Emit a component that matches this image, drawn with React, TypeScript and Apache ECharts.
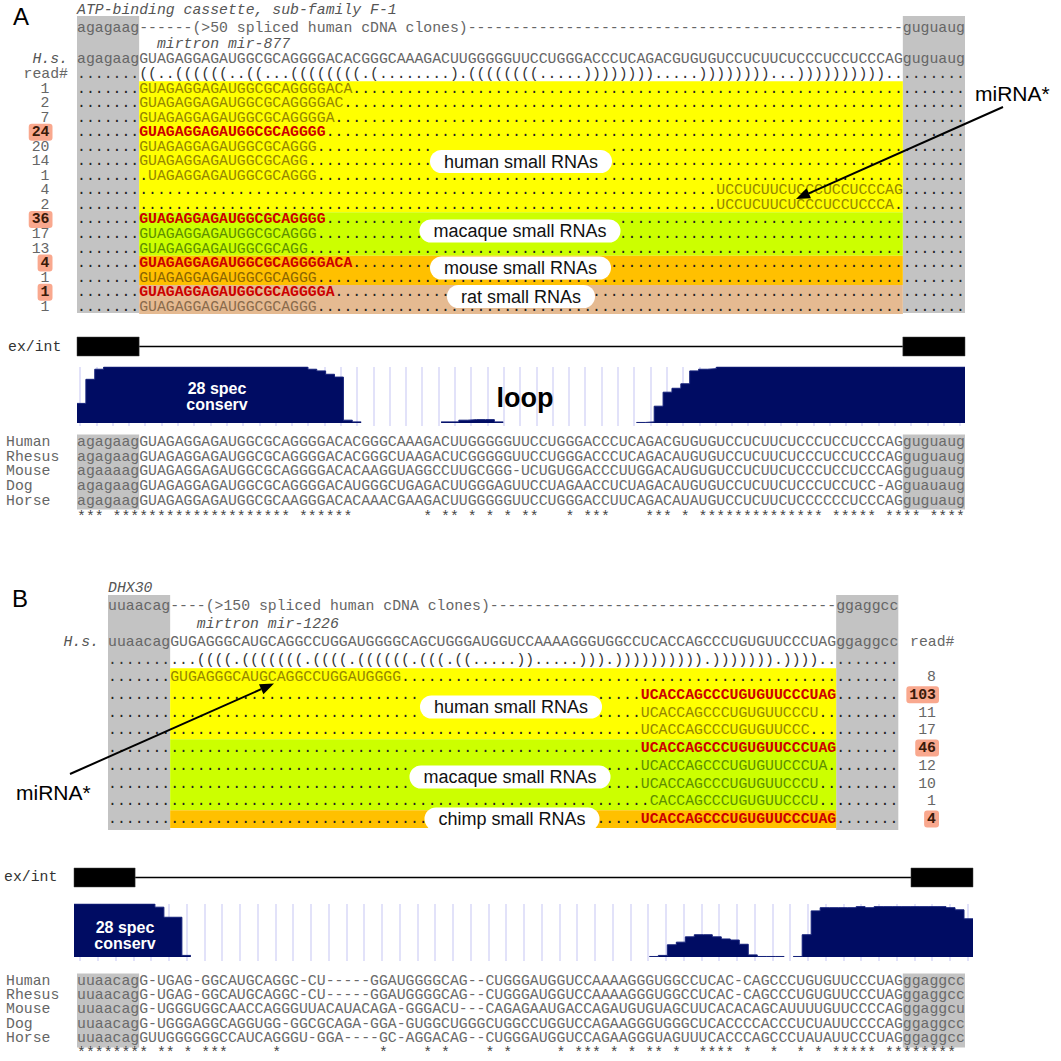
import React, { useEffect, useRef } from "react";
import * as echarts from "echarts";

// ---------------- Panel A : mirtron mir-877 ----------------
const A_GENE = "ATP-binding cassette, sub-family F-1";
const A_MIRTRON = "mirtron mir-877";
const A_CLONES = "(>50 spliced human cDNA clones)";
const A_FLANK_LEFT = "agagaag";
const A_FLANK_RIGHT = "guguaug";
const A_HAIRPIN = "GUAGAGGAGAUGGCGCAGGGGACACGGGCAAAGACUUGGGGGUUCCUGGGACCCUCAGACGUGUGUCCUCUUCUCCCUCCUCCCAG";
const A_STRUCTURE = "((..((((((..((...((((((((.(........).(((((((" + "(.....))))))))" + ".....))))))))...))))))))))..";
const A_READ_COUNTS = [1, 2, 7, 24, 20, 14, 1, 4, 2, 36, 17, 13, 4, 1, 1, 1];
const A_READ_STARTS = [0, 0, 0, 0, 0, 0, 1, 65, 65, 0, 0, 0, 0, 0, 0, 0];
const A_READ_SEQS = [
  "GUAGAGGAGAUGGCGCAGGGGACA",
  "GUAGAGGAGAUGGCGCAGGGGAC",
  "GUAGAGGAGAUGGCGCAGGGGA",
  "GUAGAGGAGAUGGCGCAGGGG",
  "GUAGAGGAGAUGGCGCAGGG",
  "GUAGAGGAGAUGGCGCAGG",
  "UAGAGGAGAUGGCGCAGGG",
  "UCCUCUUCUCCCUCCUCCCAG",
  "UCCUCUUCUCCCUCCUCCCA",
  "GUAGAGGAGAUGGCGCAGGGG",
  "GUAGAGGAGAUGGCGCAGGG",
  "GUAGAGGAGAUGGCGCAGG",
  "GUAGAGGAGAUGGCGCAGGGGACA",
  "GUAGAGGAGAUGGCGCAGGG",
  "GUAGAGGAGAUGGCGCAGGGGA",
  "GUAGAGGAGAUGGCGCAGGG",
];
const A_READ_GROUPS = [
  "human", "human", "human", "human", "human", "human", "human", "human", "human",
  "macaque", "macaque", "macaque", "mouse", "mouse", "rat", "rat",
];
const A_READ_MAJOR = [false, false, false, true, false, false, false, false, false, true, false, false, true, false, true, false];
const A_GROUP_NAMES = ["human", "macaque", "mouse", "rat"];
const A_GROUP_LABELS = ["human small RNAs", "macaque small RNAs", "mouse small RNAs", "rat small RNAs"];
const A_SPECIES = ["Human", "Rhesus", "Mouse", "Dog", "Horse"];
const A_ALIGNMENT = [
  "agagaag" + "GUAGAGGAGAUGGCGCAGGGGACACGGGCAAAGACUUGGGGGUU" + "CCUGGGACCCUCAGACGUGUGUCCUCUUCUCCCUCCUCCCAG" + "guguaug",
  "agagaag" + "GUAGAGGAGAUGGCGCAGGGGACACGGGCUAAGACUCGGGGGUU" + "CCUGGGACCCUCAGACAUGUGUCCUCUUCUCCCUCCUCCCAG" + "guguaug",
  "agaaaag" + "GUAGAGGAGAUGGCGCAGGGGACACAAGGUAGGCCUUGCGGG-U" + "CUGUGGACCCUUGGACAUGUGUCCUCUUCUCCCUCCUCCCAG" + "guguaug",
  "agagaag" + "GUAGAGGAGAUGGCGCAGGGGACAUGGGCUGAGACUUGGGAGUU" + "CCUAGAACCUCUAGACAUGUGUCCUCUUCUCCCUCCUCC-AG" + "guauaug",
  "agagaag" + "GUAGAGGAGAUGGCGCAAGGGACACAAACGAAGACUUGGGGGUU" + "CCUGGGACCUUCAGACAUAUGUCCUCUUCUCCCCCCUCCCAG" + "guguaug",
];
const A_EXONS = [[0, 7], [93, 100]];
// conservation track: segments (start column, per-column values 0..1)
const A_CONS_STARTS = [0, 41, 63];
const A_CONS_VALUES = [
  [0.35, 0.78, 0.96, 1, 1, 1, 1, 1, 1, 1, 1, 1, 1, 1, 1, 1, 1, 1, 1, 1, 1, 1, 1, 1, 1, 1,
    0.96, 0.93, 0.87, 0.82, 0.05, 0.02],
  [0.02, 0.02, 0.05, 0.06, 0.06, 0.06, 0.02],
  [0.01, 0.02, 0.3, 0.55, 0.62, 0.7, 0.93, 0.96, 0.97, 1, 1, 1, 1, 1, 1, 1, 1, 1, 1, 1, 1, 1, 1,
    1, 1, 1, 1, 1, 1, 1, 1, 1, 1, 1, 1, 1, 1],
];

// ---------------- Panel B : mirtron mir-1226 ----------------
const B_GENE = "DHX30";
const B_MIRTRON = "mirtron mir-1226";
const B_CLONES = "(>150 spliced human cDNA clones)";
const B_FLANK_LEFT = "uuaacag";
const B_FLANK_RIGHT = "ggaggcc";
const B_HAIRPIN = "GUGAGGGCAUGCAGGCCUGGAUGGGGCAGCUGGGAUGGUCCAAAAGGGUGGCCUCACCAGCCCUGUGUUCCCUAG";
const B_STRUCTURE = "..." + "((((" + "." + "(((((((" + "." + "((((" + "." + "((((((" + "." + "(((" + "." + "((" + "....." +
  "))" + "....." + ")))" + "." + "))))))))))" + "." + ")))))))" + "." + "))))" + "..";
const B_READ_COUNTS = [8, 103, 11, 17, 46, 12, 10, 1, 4];
const B_READ_STARTS = [0, 53, 53, 53, 53, 53, 53, 54, 53];
const B_READ_SEQS = [
  "GUGAGGGCAUGCAGGCCUGGAUGGGG",
  "UCACCAGCCCUGUGUUCCCUAG",
  "UCACCAGCCCUGUGUUCCCU",
  "UCACCAGCCCUGUGUUCCC",
  "UCACCAGCCCUGUGUUCCCUAG",
  "UCACCAGCCCUGUGUUCCCUA",
  "UCACCAGCCCUGUGUUCCCU",
  "CACCAGCCCUGUGUUCCCU",
  "UCACCAGCCCUGUGUUCCCUAG",
];
const B_READ_GROUPS = ["human", "human", "human", "human", "macaque", "macaque", "macaque", "macaque", "chimp"];
const B_READ_MAJOR = [false, true, false, false, true, false, false, false, true];
const B_GROUP_NAMES = ["human", "macaque", "chimp"];
const B_GROUP_LABELS = ["human small RNAs", "macaque small RNAs", "chimp small RNAs"];
const B_SPECIES = ["Human", "Rhesus", "Mouse", "Dog", "Horse"];
const B_ALIGNMENT = [
  "uuaacag" + "G-UGAG-GGCAUGCAGGC-CU-----GGAUGGGGCAG--CUGGG" + "AUGGUCCAAAAGGGUGGCCUCAC-CAGCCCUGUGUUCCCUAG" + "ggaggcc",
  "uuaacag" + "G-UGAG-GGCAUGCAGGC-CU-----GGAUGGGGCAG--CUGGG" + "AUGGUCCAAAAGGGUGGCCUCAC-CAGCCCUGUGUUCCCUAG" + "ggaggcc",
  "uuaacag" + "G-UGGGUGGCAACCAGGGUUACAUACAGA-GGGACU---CAGAG" + "AAUGACCAGAUGUGUAGCUUCACACAGCAUUUUGUUCCCCAG" + "ggaggcu",
  "uuaacag" + "G-UGGGAGGCAGGUGG-GGCGCAGA-GGA-GUGGCUGGGCUGGC" + "CUGGUCCAGAAGGGUGGGCUCACCCCACCCUCUAUUCCCCAG" + "ggaggcc",
  "uuaacag" + "GUUGGGGGGCCAUCAGGGU-GGA----GC-AGGACAG--CUGGG" + "AUGGUCCAGAAGGGUAGUUUCACCCAGCCCUAUAUUCCCUAG" + "ggaggcc",
];
const B_EXONS = [[0, 6.8], [93.1, 100]];
const B_CONS_STARTS = [0, 64, 80];
const B_CONS_VALUES = [
  [1, 1, 1, 1, 1, 1, 1, 1, 1, 0.94, 0.75, 0.75, 0.03],
  [0.01, 0.03, 0.23, 0.28, 0.38, 0.42, 0.42, 0.38, 0.34, 0.32, 0.24, 0.04, 0.01, 0.01, 0.01],
  [0.01, 0.42, 0.87, 0.93, 0.93, 0.93, 0.93, 0.95, 0.93, 0.95, 0.95, 0.95, 0.95, 0.95, 0.95, 0.95, 0.95,
    0.93, 0.89, 0.72],
];

// ---------------- styling ----------------
const W = 1061;
const H = 1061;
const CW = 8.88;
const FS = 14.8;
const MONO = "'Liberation Mono', Cousine, 'DejaVu Sans Mono', monospace";
const SANS = "'Liberation Sans', Arial, Helvetica, sans-serif";
const GROUP_BG: Record<string, string> = {
  human: "#FFFF00", macaque: "#CCFF00", mouse: "#FFC000", rat: "#E5BA91", chimp: "#FFC000",
};
const GROUP_FG: Record<string, string> = {
  human: "#958600", macaque: "#5E8E00", mouse: "#8C6500", rat: "#8A6B4C", chimp: "#8C6500",
};
const GREY_BOX = "#C3C3C3";
const SEQ_GREY = "#666666";
const MAJOR_RED = "#CC0000";
const SALMON = "#F9A88E";
const CONS_FILL = "#000C63";
const PILL_FONT = `18px ${SANS}`;
const PILL_PAD = 14;
const PILL_VPAD = 2.5;
const PILL_H = 18 + 2 * PILL_VPAD;

const NORMAL = `${FS}px ${MONO}`;
const BOLD = `bold ${FS}px ${MONO}`;
const ITALIC = `italic ${FS}px ${MONO}`;

let measureCtx: CanvasRenderingContext2D | null = null;
function measure(text: string, font: string) {
  if (!measureCtx) measureCtx = document.createElement("canvas").getContext("2d");
  if (!measureCtx) return text.length * 9;
  measureCtx.font = font;
  return measureCtx.measureText(text).width;
}

function T(x: number, y: number, text: string, o: any = {}) {
  const align = o.align ?? "left";
  const style: any = {
    text,
    fill: o.fill ?? SEQ_GREY,
    font: o.font ?? NORMAL,
    align,
    verticalAlign: "middle",
    textAlign: align,
    textVerticalAlign: "middle",
  };
  if (o.bg) {
    style.backgroundColor = o.bg;
    style.padding = o.padding;
    style.borderRadius = o.radius;
  }
  return { type: "text", x, y, z: o.z ?? 5, silent: true, style };
}

function R(x: number, y: number, w: number, h: number, fill: string, z = 1) {
  return { type: "rect", z, silent: true, shape: { x, y, width: w, height: h }, style: { fill } };
}

function arrow(x1: number, y1: number, x2: number, y2: number) {
  const ang = Math.atan2(y2 - y1, x2 - x1);
  const L = 14;
  const Wd = 5.5;
  const bx = x2 - L * Math.cos(ang);
  const by = y2 - L * Math.sin(ang);
  const px = -Math.sin(ang) * Wd;
  const py = Math.cos(ang) * Wd;
  return [
    { type: "line", z: 9, silent: true, shape: { x1, y1, x2: bx, y2: by }, style: { stroke: "#000", lineWidth: 2 } },
    {
      type: "polygon", z: 9, silent: true,
      shape: { points: [[x2, y2], [bx + px, by + py], [bx - px, by - py]] },
      style: { fill: "#000" },
    },
  ];
}

function stars(rows: string[]) {
  let s = "";
  for (let c = 0; c < rows[0].length; c++) {
    const ch = rows[0][c];
    s += ch !== "-" && rows.every((r) => r[c] === ch) ? "*" : " ";
  }
  return s;
}

type Pill = { cx: number; cy: number; w: number; h: number };

// dotted placeholder row, split around the read and around the label pills covering it
function pushDots(els: any[], x0: number, y: number, total: number, rs: number, rl: number, pills: Pill[]) {
  const hidden = (c: number) => {
    if (c >= rs && c < rs + rl) return true;
    const px = x0 + c * CW + CW / 2;
    const py = y + 3.8;
    return pills.some((p) => Math.abs(px - p.cx) < p.w / 2 - 2 && Math.abs(py - p.cy) < p.h / 2 + 0.5);
  };
  let c = 0;
  while (c < total) {
    if (hidden(c)) { c++; continue; }
    let e = c;
    while (e < total && !hidden(e)) e++;
    els.push(T(x0 + c * CW, y, ".".repeat(e - c), { fill: "#222" }));
    c = e;
  }
}

function bands(groups: string[], y0: number, rh: number, x: number, w: number) {
  const out: any[] = [];
  let i = 0;
  while (i < groups.length) {
    let j = i;
    while (j + 1 < groups.length && groups[j + 1] === groups[i]) j++;
    out.push(R(x, y0 + i * rh - rh / 2, w, (j - i + 1) * rh, GROUP_BG[groups[i]], 2));
    i = j + 1;
  }
  return out;
}

function makePills(labels: string[], centers: [number, number][]): Pill[] {
  return labels.map((l, k) => ({
    cx: centers[k][0], cy: centers[k][1], w: measure(l, PILL_FONT) + 2 * PILL_PAD, h: PILL_H,
  }));
}

function pillText(cx: number, cy: number, label: string) {
  return T(cx, cy, label, {
    align: "center", font: PILL_FONT, fill: "#111", bg: "#FFFFFF",
    padding: [PILL_VPAD, PILL_PAD, PILL_VPAD, PILL_PAD], radius: 12, z: 8,
  });
}

function buildOption() {
  const els: any[] = [];

  // ================= Panel A top =================
  const AX = 77;
  const AROW0 = 88.5;
  const ARH = 14.55;
  const aRowY = (i: number) => AROW0 + i * ARH;
  const aPillCenters: [number, number][] = [[521, 161.5], [520, 231], [520.5, 268], [521, 296.5]];
  const aPills = makePills(A_GROUP_LABELS, aPillCenters);
  els.push(T(13, 16, "A", { font: `24px ${SANS}`, fill: "#000" }));
  els.push(R(AX, 16, 7 * CW, 297, GREY_BOX));
  els.push(R(AX + 93 * CW, 16, 7 * CW, 297, GREY_BOX));
  els.push(...bands(A_READ_GROUPS, AROW0, ARH, AX + 7 * CW, 86 * CW));
  els.push(T(AX, 9.5, A_GENE, { font: ITALIC, fill: "#555" }));
  const aDash1 = 6;
  const aDash2 = 100 - 14 - aDash1 - A_CLONES.length;
  els.push(T(AX, 28, A_FLANK_LEFT + "-".repeat(aDash1) + A_CLONES + "-".repeat(aDash2) + A_FLANK_RIGHT));
  els.push(T(AX + 9 * CW, 44, A_MIRTRON, { font: ITALIC, fill: "#555" }));
  els.push(T(68, 59, "H.s.", { font: ITALIC, fill: "#555", align: "right" }));
  els.push(T(AX, 59, A_FLANK_LEFT + A_HAIRPIN + A_FLANK_RIGHT));
  els.push(T(68, 74, "read#", { align: "right" }));
  els.push(T(AX, 74, "......." + A_STRUCTURE + ".......", { fill: "#333" }));
  A_READ_SEQS.forEach((seq, i) => {
    const y = aRowY(i);
    const s = 7 + A_READ_STARTS[i];
    pushDots(els, AX, y, 100, s, seq.length, aPills);
    const major = A_READ_MAJOR[i];
    els.push(T(AX + s * CW, y, seq, {
      fill: major ? MAJOR_RED : GROUP_FG[A_READ_GROUPS[i]],
      font: major ? BOLD : NORMAL,
    }));
    const cnt = String(A_READ_COUNTS[i]);
    if (major) {
      els.push(T(52.5, y, cnt, { align: "right", font: BOLD, fill: "#3A1A0A", bg: SALMON, padding: [1, 3, 1, 3], radius: 3 }));
    } else {
      els.push(T(49.5, y, cnt, { align: "right" }));
    }
  });
  A_GROUP_NAMES.forEach((g, k) => {
    els.push(pillText(aPillCenters[k][0], aPillCenters[k][1], A_GROUP_LABELS[k]));
  });
  els.push(T(975, 93.5, "miRNA*", { font: `21px ${SANS}`, fill: "#000", z: 9 }));
  els.push(...arrow(1003, 107, 796, 199));

  // ================= Panel A bottom =================
  els.push(T(8, 347, "ex/int", { fill: "#333" }));
  els.push(T(217, 388, "28 spec", { align: "center", font: `bold 16px ${SANS}`, fill: "#FFFFFF", z: 100 }));
  els.push(T(217, 404, "conserv", { align: "center", font: `bold 16px ${SANS}`, fill: "#FFFFFF", z: 100 }));
  els.push(T(525, 398, "loop", { align: "center", font: `bold 27px ${SANS}`, fill: "#000", z: 100 }));
  els.push(R(AX, 434.5, 7 * CW, 75, GREY_BOX));
  els.push(R(AX + 93 * CW, 434.5, 7 * CW, 75, GREY_BOX));
  A_SPECIES.forEach((sp, i) => {
    const y = 442 + 14.7 * i;
    els.push(T(6, y, sp, { fill: "#666" }));
    els.push(T(AX, y, A_ALIGNMENT[i], { fill: "#6A6A6A" }));
  });
  els.push(T(AX, 442 + 14.7 * 5 + 1, stars(A_ALIGNMENT), { fill: "#444" }));

  // ================= Panel B top =================
  const BX = 108;
  const BROW0 = 677;
  const BRH = 17.75;
  const bRowY = (i: number) => BROW0 + i * BRH;
  const bPillCenters: [number, number][] = [[511, 707], [510, 777], [512, 819]];
  const bPills = makePills(B_GROUP_LABELS, bPillCenters);
  els.push(T(12, 598, "B", { font: `24px ${SANS}`, fill: "#000" }));
  els.push(R(BX, 595, 7 * CW, 235, GREY_BOX));
  els.push(R(BX + 82 * CW, 595, 7 * CW, 235, GREY_BOX));
  els.push(...bands(B_READ_GROUPS, BROW0, BRH, BX + 7 * CW, 75 * CW));
  els.push(T(BX, 588, B_GENE, { font: ITALIC, fill: "#555" }));
  const bDash1 = 4;
  const bDash2 = 89 - 14 - bDash1 - B_CLONES.length;
  els.push(T(BX, 606, B_FLANK_LEFT + "-".repeat(bDash1) + B_CLONES + "-".repeat(bDash2) + B_FLANK_RIGHT));
  els.push(T(BX + 10 * CW, 624, B_MIRTRON, { font: ITALIC, fill: "#555" }));
  els.push(T(99, 642, "H.s.", { font: ITALIC, fill: "#555", align: "right" }));
  els.push(T(BX, 642, B_FLANK_LEFT + B_HAIRPIN + B_FLANK_RIGHT));
  els.push(T(910, 642, "read#"));
  els.push(T(BX, 660, "......." + B_STRUCTURE + ".......", { fill: "#333" }));
  B_READ_SEQS.forEach((seq, i) => {
    const y = bRowY(i);
    const s = 7 + B_READ_STARTS[i];
    pushDots(els, BX, y, 89, s, seq.length, bPills);
    const major = B_READ_MAJOR[i];
    els.push(T(BX + s * CW, y, seq, {
      fill: major ? MAJOR_RED : GROUP_FG[B_READ_GROUPS[i]],
      font: major ? BOLD : NORMAL,
    }));
    const cnt = String(B_READ_COUNTS[i]);
    if (major) {
      els.push(T(939, y, cnt, { align: "right", font: BOLD, fill: "#3A1A0A", bg: SALMON, padding: [1, 3, 1, 3], radius: 3 }));
    } else {
      els.push(T(936, y, cnt, { align: "right" }));
    }
  });
  B_GROUP_NAMES.forEach((g, k) => {
    els.push(pillText(bPillCenters[k][0], bPillCenters[k][1], B_GROUP_LABELS[k]));
  });
  els.push(T(16, 792, "miRNA*", { font: `21px ${SANS}`, fill: "#000", z: 9 }));
  els.push(...arrow(70, 774, 274, 683.5));

  // ================= Panel B bottom =================
  els.push(T(4, 877, "ex/int", { fill: "#333" }));
  els.push(T(125, 927, "28 spec", { align: "center", font: `bold 16px ${SANS}`, fill: "#FFFFFF", z: 100 }));
  els.push(T(125, 943, "conserv", { align: "center", font: `bold 16px ${SANS}`, fill: "#FFFFFF", z: 100 }));
  els.push(R(AX, 973.5, 7 * CW, 74, GREY_BOX));
  els.push(R(AX + 93 * CW, 973.5, 7 * CW, 74, GREY_BOX));
  B_SPECIES.forEach((sp, i) => {
    const y = 980.5 + 14.4 * i;
    els.push(T(6, y, sp, { fill: "#666" }));
    els.push(T(AX, y, B_ALIGNMENT[i], { fill: "#6A6A6A" }));
  });
  els.push(T(AX, 1053.3, stars(B_ALIGNMENT), { fill: "#444" }));

  // ================= tracks (grids / series) =================
  const grids = [
    { left: 77, top: 337, width: 888, height: 19 }, // 0 A exon/intron
    { left: 77, top: 367, width: 888, height: 56 }, // 1 A conservation
    { left: 80, top: 367, width: 880, height: 59 }, // 2 A guide lines
    { left: 74, top: 868, width: 899, height: 19 }, // 3 B exon/intron
    { left: 74, top: 904, width: 899, height: 53 }, // 4 B conservation
    { left: 80, top: 904, width: 887.5, height: 57 }, // 5 B guide lines
  ];
  const hidden = {
    axisLine: { show: false }, axisTick: { show: false }, axisLabel: { show: false }, splitLine: { show: false },
  };
  const xAxis = grids.map((_, i) => {
    if (i === 2 || i === 5) {
      return {
        type: "value", gridIndex: i, min: 0, max: i === 2 ? 54 : 50, interval: 1, ...hidden,
        splitLine: { show: true, lineStyle: { color: "#D9D9F7", width: 1.5 } },
      };
    }
    return { type: "value", gridIndex: i, min: 0, max: 100, ...hidden };
  });
  const yAxis = grids.map((_, i) => ({ type: "value", gridIndex: i, min: 0, max: 1, ...hidden }));

  const series: any[] = [];
  const exonSeries = (gi: number, exons: number[][]) => {
    series.push({
      type: "custom", xAxisIndex: gi, yAxisIndex: gi, silent: true, data: exons, z: 3,
      encode: { x: [0, 1] },
      renderItem: (_p: any, api: any) => {
        const a = api.coord([api.value(0), 1]);
        const b = api.coord([api.value(1), 0]);
        return {
          type: "rect",
          shape: { x: a[0], y: a[1], width: b[0] - a[0], height: b[1] - a[1] },
          style: { fill: "#000", stroke: "#444", lineWidth: 0.5 },
        };
      },
    });
    series.push({
      type: "line", xAxisIndex: gi, yAxisIndex: gi, silent: true, symbol: "none", z: 2,
      data: [[exons[0][1], 0.5], [exons[1][0], 0.5]],
      lineStyle: { color: "#000", width: 1.6 },
    });
  };
  const consSeries = (gi: number, starts: number[], values: number[][]) => {
    starts.forEach((s, k) => {
      const vals = values[k];
      const data: number[][] = vals.map((v, j) => [s + j, v]);
      data.push([s + vals.length, vals[vals.length - 1]]);
      series.push({
        type: "line", xAxisIndex: gi, yAxisIndex: gi, silent: true, symbol: "none", step: "end", z: 3,
        data,
        lineStyle: { color: "#14207A", width: 1 },
        areaStyle: { color: CONS_FILL, opacity: 1 },
      });
    });
  };
  exonSeries(0, A_EXONS);
  consSeries(1, A_CONS_STARTS, A_CONS_VALUES);
  exonSeries(3, B_EXONS);
  consSeries(4, B_CONS_STARTS, B_CONS_VALUES);

  return {
    animation: false,
    backgroundColor: "#FFFFFF",
    grid: grids.map((g) => ({ ...g, containLabel: false })),
    xAxis,
    yAxis,
    series,
    graphic: { elements: els },
  };
}

export default function App() {
  const ref = useRef<HTMLDivElement>(null);
  useEffect(() => {
    if (!ref.current) return;
    const chart = echarts.init(ref.current, undefined, { renderer: "svg", width: W, height: H });
    chart.setOption(buildOption() as any);
    return () => chart.dispose();
  }, []);
  return (
    <div
      ref={ref}
      style={{ position: "absolute", left: 0, top: 0, width: W, height: H, background: "#fff" }}
    />
  );
}
